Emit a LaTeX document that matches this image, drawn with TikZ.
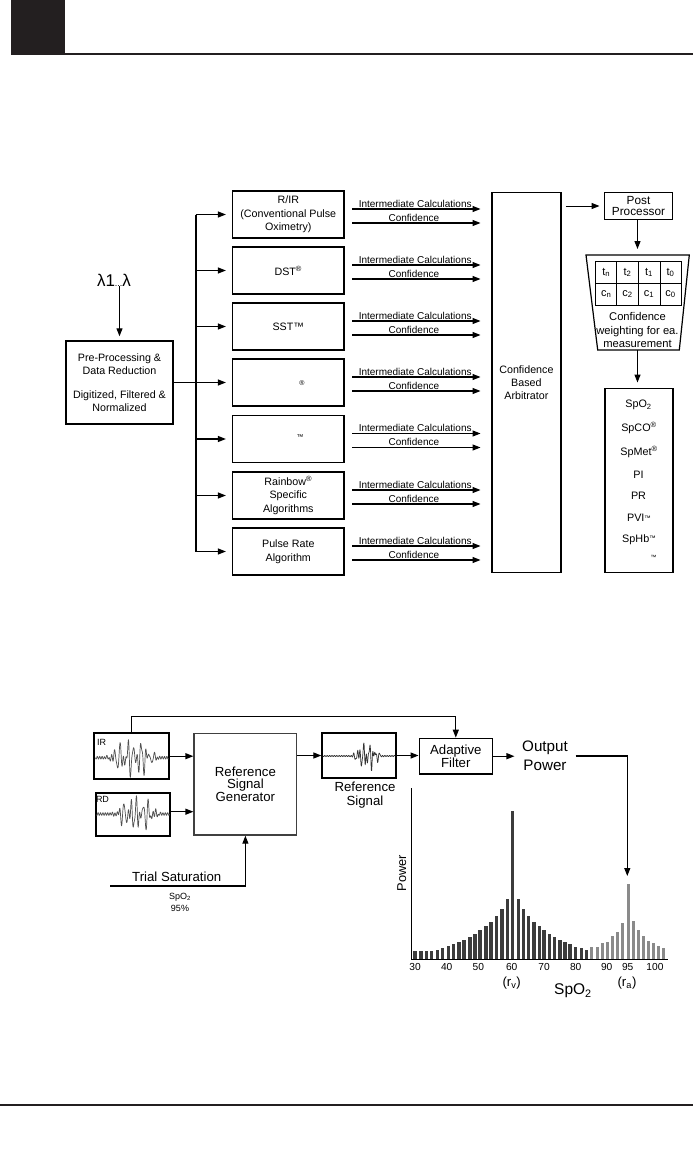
\documentclass[tikz,border=0pt]{standalone}
\usepackage{fontspec}
\setmainfont{Liberation Sans}
\usetikzlibrary{arrows.meta,calc}
\definecolor{ink}{HTML}{231F20}
\definecolor{dkbar}{HTML}{3C3C3C}
\definecolor{ltbar}{HTML}{8A8A8A}
\definecolor{wavec}{HTML}{505050}
\newcommand\fsz[2]{\fontsize{#1}{#2}\selectfont}
\begin{document}
\begin{tikzpicture}[x=1pt,y=-1pt,
  arr/.style={-{Triangle[length=8pt,width=6pt]}, line width=1.2pt},
  abox/.style={draw, line width=1.5pt, minimum width=111.3pt, minimum height=47pt, inner sep=0pt, align=center, font=\fsz{10.7}{13.5}},
  calc/.style={font=\fsz{10}{11}, anchor=south, inner sep=1.2pt},
  plain/.style={inner sep=0pt, align=center},
  sbox/.style={draw, line width=2pt, inner sep=0pt},
  wave/.style={draw=wavec, line width=0.7pt, line join=round}
]
\fill[white] (0,0) rectangle (693,1160);
\useasboundingbox (0,0) rectangle (693,1160);
% header and footer
\fill[ink] (11,0) rectangle (65,55);
\draw[ink, line width=2.5pt] (65,54) -- (693,54);
\draw[ink, line width=2pt] (0,1105) -- (693,1105);

% ---------------- top diagram ----------------
\node[plain, font=\fsz{17}{19}] (lam) at (114,280) {λ1{\fsz{9}{9}...}λ};
\node[draw, line width=1.5pt, minimum width=107pt, minimum height=83pt, inner sep=0pt, align=center, font=\fsz{10.7}{13.3}] (pre) at (119.5,382.5)
  {Pre-Processing \&\\Data Reduction\\[10.5pt]Digitized, Filtered \&\\Normalized};
\draw[arr, shorten >=4pt] (lam.south -| pre.north) -- (pre.north);

\node[abox] (a1) at (288.3,214.5) {R/IR\\(Conventional Pulse\\Oximetry)};
\node[abox] (a2) at (288.3,270.5) {DST\textsuperscript{®}};
\node[abox] (a3) at (288.3,326.5) {SST™};
\node[abox] (a4) at (288.3,382.5) {};
\node[abox] (a5) at (288.3,439) {};
\node[abox] (a6) at (288.3,495.5) {Rainbow\textsuperscript{®}\\Specific\\Algorithms};
\node[abox] (a7) at (288.3,551.5) {Pulse Rate\\Algorithm};
\node[plain, font=\fsz{7}{8}] (r4) at (302,383) {®};
\node[plain, font=\fsz{7}{8}] (t5) at (300,437) {™};

\coordinate (bt) at (195.7,214.5);
\coordinate (bb) at (195.7,551.5);
\draw[line width=1.8pt] (bt) -- (bb);
\draw[line width=1.1pt] (pre.east) -- (pre.east -| bt);
\foreach \i in {1,...,7} {
  \draw[arr, shorten >=6pt] (bt |- a\i.west) -- (a\i.west);
}

\node[draw, line width=1.5pt, minimum width=69.3pt, minimum height=379.6pt, inner sep=0pt, align=center, font=\fsz{10.7}{13.3}] (arb) at (526.4,382.5) {Confidence\\Based\\Arbitrator};

\foreach \i in {1,...,7} {
  \draw[arr] ($(a\i.east)+(7.7,-5.5)$) -- ($(arb.west |- a\i.east)+(-10.5,-5.5)$)
     node[calc, pos=0.49] {Intermediate Calculations};
  \draw[arr] ($(a\i.east)+(7.7,8.5)$) -- ($(arb.west |- a\i.east)+(-10.5,8.5)$)
     node[calc, pos=0.48] {Confidence};
}

\node[draw, line width=1.5pt, minimum width=68.4pt, minimum height=26.6pt, inner sep=0pt, align=center, font=\fsz{11.8}{11.8}] (pp) at (638.5,206) {Post\\Processor};
\draw[arr, line width=1pt, shorten <=4pt, shorten >=4pt] (arb.east |- pp.west) -- (pp.west);

% trapezoid with table
\draw[line width=1.2pt] (586,255) -- (689.3,255) -- (679.3,350) -- (597.7,350) -- cycle;
\coordinate (traptop) at (637.5,255);
\coordinate (trapbot) at (637.5,350);
\draw[line width=0.9pt] (595.7,261.7) rectangle (681,305);
\draw[line width=0.9pt] (595.7,283.3) -- (681,283.3);
\foreach \xx in {616.7,638.3,660} { \draw[line width=0.9pt] (\xx,261.7) -- (\xx,305); }
\node[plain, font=\fsz{11}{12}] (tn) at (606.2,272.5) {t\textsubscript{n}};
\node[plain, font=\fsz{11}{12}] (t2) at (627.5,272.5) {t\textsubscript{2}};
\node[plain, font=\fsz{11}{12}] (t1) at (649.1,272.5) {t\textsubscript{1}};
\node[plain, font=\fsz{11}{12}] (t0) at (670.5,272.5) {t\textsubscript{0}};
\node[plain, font=\fsz{11}{12}] (cn) at (606.2,294.2) {c\textsubscript{n}};
\node[plain, font=\fsz{11}{12}] (c2) at (627.5,294.2) {c\textsubscript{2}};
\node[plain, font=\fsz{11}{12}] (c1) at (649.1,294.2) {c\textsubscript{1}};
\node[plain, font=\fsz{11}{12}] (c0) at (670.5,294.2) {c\textsubscript{0}};
\node[plain, font=\fsz{11.2}{13.2}] (cw) at (637.5,330) {Confidence\\weighting for ea.\\measurement};
\draw[arr, shorten >=6pt] (pp.south -| traptop) -- (traptop);

\node[draw, line width=1.5pt, minimum width=67.7pt, minimum height=184pt, inner sep=0pt] (out) at (638.9,480.3) {};
\draw[arr, shorten >=5pt] (trapbot) -- (out.north -| trapbot);
\begin{scope}[every node/.style={plain, font=\fsz{10.8}{12}}]
\node (o1) at (638.5,405) {SpO\textsubscript{2}};
\node (o2) at (639,428) {SpCO\textsuperscript{®}};
\node (o3) at (639,451.5) {SpMet\textsuperscript{®}};
\node (o4) at (638.5,474.5) {PI};
\node (o5) at (638.5,496) {PR};
\node (o6) at (639,518) {PVI{\fsz{6.5}{7}\raisebox{1.5pt}{™}}};
\node (o7) at (639,539.5) {SpHb{\fsz{6.5}{7}\raisebox{1.5pt}{™}}};
\node[font=\fsz{6}{7}] (o8) at (653.5,557) {™};
\end{scope}

% ---------------- bottom diagram ----------------
\node[sbox, minimum width=75pt, minimum height=45.7pt] (ir) at (131.8,756.2) {};
\node[sbox, minimum width=74.3pt, minimum height=42.7pt] (rd) at (132.9,814.7) {};
\node[sbox, minimum width=73.7pt, minimum height=45.6pt] (ref) at (359.2,755.5) {};
\node[draw=black!75, line width=1.3pt, minimum width=102.7pt, minimum height=101.7pt, inner sep=0pt, align=center, font=\fsz{13.2}{13.4}] (rsg) at (245.4,784.2) {Reference\\[-0.5pt]Signal\\[-0.5pt]Generator};
\node[draw, line width=1.5pt, minimum width=73pt, minimum height=35.7pt, inner sep=0pt, align=center, font=\fsz{13.2}{13.5}] (af) at (455.8,756.2) {Adaptive\\[-1pt]Filter};
\node[plain, font=\fsz{15.2}{18.5}, inner xsep=7.5pt] (op) at (545,756) {Output\\Power};
\node[plain, font=\fsz{13.2}{13.5}] (rsl) at (365,795) {Reference\\Signal};

% waveforms
\begin{scope}
\clip (ir.north west) rectangle (ir.south east);
\draw[wave] plot[domain=0:73, samples=260, variable=\x] ({95.5+\x},{757.7+1.4*sin(150*\x)+16*exp(0-((\x-37)/20)*((\x-37)/20)*((\x-37)/20)*((\x-37)/20))*(0.55*sin(53*\x+20)+0.5*sin(83*\x+60)+0.3*sin(127*\x+10))});
\end{scope}
\begin{scope}
\clip (rd.north west) rectangle (rd.south east);
\draw[wave] plot[domain=0:73, samples=260, variable=\x] ({96.5+\x},{814+1.4*sin(150*\x+30)+15*exp(0-((\x-40)/18)*((\x-40)/18)*((\x-40)/18)*((\x-40)/18))*(0.55*sin(59*\x+70)+0.5*sin(89*\x)+0.3*sin(131*\x+40))});
\end{scope}
\begin{scope}
\clip (ref.north west) rectangle (ref.south east);
\draw[wave, draw=black!80] plot[domain=0:72, samples=260, variable=\x] ({323+\x},{756+0.6*sin(150*\x)+13*exp(0-((\x-44)/12)*((\x-44)/12)*((\x-44)/12)*((\x-44)/12))*(0.5*sin(67*\x+50)+0.45*sin(113*\x+20)+0.3*sin(171*\x+80))*exp(0-((\x-44)/30)*((\x-44)/30))});
\end{scope}
\node[plain, font=\fsz{9}{10}] (irl) at (101.5,742) {IR};
\node[plain, font=\fsz{9}{10}] (rdl) at (102.5,799.7) {RD};

% connectors
\draw[arr] (ir.east) -- (rsg.west |- ir.east);
\draw[arr] (rd.east |- 0,811.7) -- (rsg.west |- 0,811.7);
\draw[arr] (rsg.east |- ref.west) -- (ref.west);
\draw[arr] (ref.east) -- (af.west |- ref.east);
\draw[arr] (af.east) -- (op.west |- af.east);
\coordinate (fb) at (200,716.7);
\draw[arr, line width=1.1pt] (ir.north) |- (fb) -| (af.north);
\coordinate (pk) at (627.3,876);
\draw[arr] (op.east) -| (pk);
\coordinate (ts) at (110,886);
\draw[arr, line width=1.1pt] (ts) -| (rsg.south);
\node[plain, font=\fsz{13.2}{14}] (tsl) at (176.7,876.5) {Trial Saturation};
\node[plain, font=\fsz{9}{12}] (tsv) at (180,902.5) {SpO\textsubscript{2}\\95\%};

% histogram
\draw[line width=1pt] (411.7,788) -- (411.7,959.3) -- (668.3,959.3);
\foreach \zx/\zt in {75/453,93/453,110/453,125/453,142/450,158/445,175/438,190/433,207/427,222/420,240/411,255/402,270/390,288/378,303/366,320/349,336/327,352/297,367/33,385/297,400/327,415/349,432/366,448/378,462/390,478/402,493/411,510/420,525/427,540/433,557/440,575/445,590/450}
  { \fill[dkbar] ({390+\zx/3-1.6},959.3) rectangle ({390+\zx/3+1.6},{800+\zt/3}); }
\foreach \zx/\zt in {605/440,622/440,637/430,652/426,667/408,682/396,698/370,715/252,730/363,745/390,760/408,775/423,790/430,805/437,820/445}
  { \fill[ltbar] ({390+\zx/3-1.6},959.3) rectangle ({390+\zx/3+1.6},{800+\zt/3}); }
\begin{scope}[every node/.style={plain, font=\fsz{10.2}{11}}]
\node (x30) at (415,967) {30};
\node (x40) at (446.7,967) {40};
\node (x50) at (478.3,967) {50};
\node (x60) at (511.7,967) {60};
\node (x70) at (544,967) {70};
\node (x80) at (575.7,967) {80};
\node (x90) at (606.7,967) {90};
\node (x95) at (627.7,967) {95};
\node (x100) at (655,967) {100};
\end{scope}
\node[plain, font=\fsz{12.8}{13}, rotate=90] (pw) at (401.7,873) {Power};
\node[plain, font=\fsz{13.2}{14}] (rv) at (511.7,983.3) {(r\textsubscript{v})};
\node[plain, font=\fsz{13.2}{14}] (ra) at (627,983.3) {(r\textsubscript{a})};
\node[plain, font=\fsz{15.5}{16}] (sx) at (573,990.7) {SpO\textsubscript{2}};
\end{tikzpicture}
\end{document}
